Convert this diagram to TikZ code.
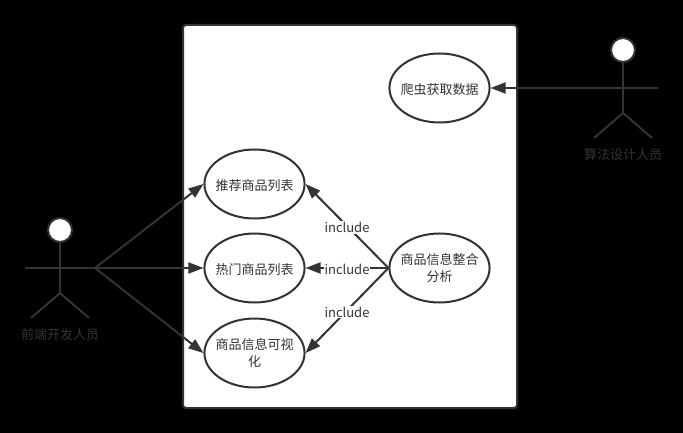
\documentclass[tikz,border=0pt]{standalone}
\usepackage{fontspec}
\setmainfont{Noto Sans CJK SC}
\usetikzlibrary{arrows.meta, shapes.geometric}
\definecolor{ink}{HTML}{333333}
\tikzset{
    usecase/.style={draw=ink, line width=2pt, fill=white, ellipse, minimum height=69pt, inner xsep=-3.6pt, inner ysep=0pt, align=center, text=ink, font=\fontsize{13pt}{17pt}\selectfont, execute at begin node={\rule{0pt}{14.4pt}}},
    actorline/.style={draw=ink, line width=2pt},
    actorname/.style={text=ink, font=\fontsize{13pt}{17pt}\selectfont, inner sep=0pt},
    link/.style={draw=ink, line width=2pt, -{Stealth[inset=0pt, length=15pt, width=11pt]}},
    includetag/.style={midway, yshift=-1.5pt, fill=white, text=ink, inner sep=1pt, font=\fontsize{13pt}{15pt}\selectfont}
}
\begin{document}
\begin{tikzpicture}[x=1pt, y=-1pt]
        \useasboundingbox (0,0) rectangle (683,433);
        % The background and the system box
        \fill[black] (0,0) rectangle (683,433);
        \draw[draw=ink, line width=2pt, fill=white, rounded corners=3pt] (183,25) rectangle (517,408);

        % Use cases
        \node[usecase] (crawl) at (439.5,88) {爬虫获取数据};
        \node[usecase] (recommend) at (254.5,184) {推荐商品列表};
        \node[usecase] (hot) at (254.5,268) {热门商品列表};
        \node[usecase] (visual) at (254.5,353) {商品信息可视\\化};
        \node[usecase] (analysis) at (439.5,268) {商品信息整合\\分析};

        % Left actor
        \draw[actorline, fill=white] (60,230) circle (12);
        \draw[actorline] (60,242) -- (60,293);
        \draw[actorline] (25,268) -- (95,268);
        \draw[actorline] (31,318) -- (60,293) -- (89,318);
        \coordinate (devhand) at (95,268);
        \node[actorname] (devname) at (60,335) {前端开发人员};

        % Right actor
        \draw[actorline, fill=white] (623,50) circle (12);
        \draw[actorline] (623,62) -- (623,113);
        \draw[actorline] (588,88) -- (658,88);
        \draw[actorline] (594,138) -- (623,113) -- (652,138);
        \coordinate (algohand) at (658,88);
        \node[actorname] (algoname) at (623,155) {算法设计人员};

        % Actor links
        \draw[link] (devhand) -- (recommend.west);
        \draw[link] (devhand) -- (hot.west);
        \draw[link] (devhand) -- (visual.west);
        \draw[link] (algohand) -- (crawl.east);

        % Include links
        \draw[link] (analysis.west) -- (recommend.east) node[includetag] {include};
        \draw[link] (analysis.west) -- (hot.east) node[includetag] {include};
        \draw[link] (analysis.west) -- (visual.east) node[includetag] {include};
    \end{tikzpicture}
\end{document}
